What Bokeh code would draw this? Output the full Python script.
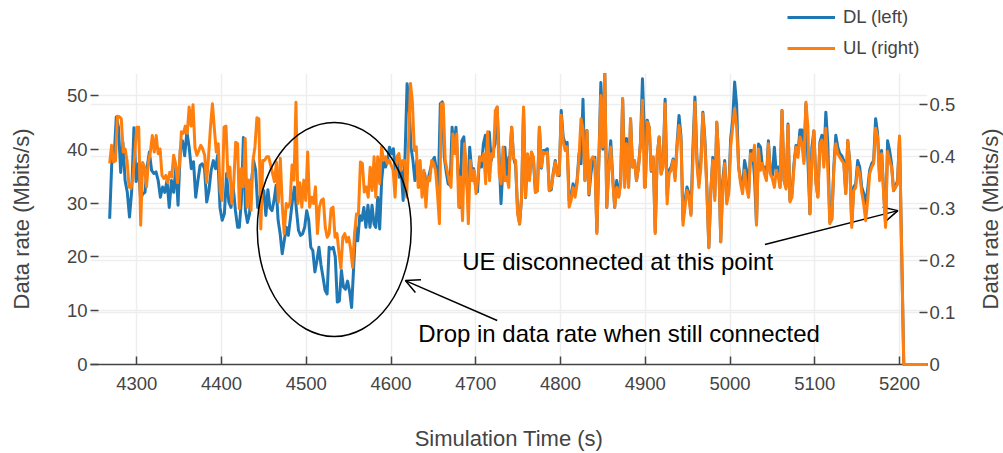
import math
import numpy as np
from bokeh.plotting import figure
from bokeh.layouts import column, row
from bokeh.models import (Range1d, LinearAxis, FixedTicker, Grid, Legend, LegendItem,
                          Label, Arrow, OpenHead, CustomJSTickFormatter)
from bokeh.embed import file_html
from bokeh.resources import INLINE

# ---------------- data ----------------
seg_start = [4268, 4421, 4582, 4740, 4900, 5059]
seg_end = [4419, 4580, 4739, 4899, 5057, 5200]
tail_t = [5205, 5233]
tail_dl = [0, 0]
tail_ul = [0, 0]

dl_a = [27.1, 37.9, 38.3, 46.0, 44.1, 35.7, 41.3, 34.2, 32.0, 27.4, 32.3, 44.0, 34.0, 37.3, 30.8,
        31.7, 32.0, 36.7, 39.5, 36.1, 35.5, 35.8, 34.2, 31.1, 33.0, 32.0, 34.2, 29.2, 34.2, 32.0,
        36.7, 29.6, 39.8, 41.6, 38.8, 43.2, 40.5, 36.4, 37.7, 31.1, 34.2, 37.0, 37.3, 36.4, 30.2,
        32.3, 36.1, 37.9, 36.4, 39.0, 29.2, 26.8, 28.0, 35.5, 30.2, 29.2, 33.0, 28.6, 25.5]
dl_b = [25.5, 30.5, 42.2, 28.6, 26.4, 28.0, 34.2, 37.9, 36.1, 29.2, 31.1, 31.7, 32.3, 27.7, 32.5,
        29.1, 28.6, 30.5, 33.3, 26.8, 24.3, 20.6, 23.0, 25.5, 24.0, 27.1, 30.5, 33.0, 28.6, 24.9,
        24.0, 24.3, 25.5, 28.6, 26.8, 21.8, 21.2, 17.2, 19.3, 21.8, 18.5, 16.2, 13.8, 13.1, 21.8,
        21.5, 21.8, 20.0, 11.6, 11.8, 17.5, 14.4, 14.0, 15.5, 13.6, 10.6, 18.1, 25.5, 23.0, 27.7,
        26.8, 29.2, 25.5, 29.6, 25.5, 29.6, 26.1]
dl_c = [25.5, 31.1, 25.2, 34.2, 37.9, 36.7, 37.9, 40.4, 39.2, 40.1, 36.1, 38.5, 34.8, 36.1, 30.5,
        39.2, 52.2, 48.5, 40.4, 37.9, 34.2, 37.9, 33.0, 36.1, 34.6, 35.5, 33.0, 34.8, 36.4, 37.9,
        38.5, 36.1, 33.3, 48.5, 48.8, 38.5, 35.8, 33.6, 33.3, 44.1, 39.8, 44.1, 36.1, 29.2, 41.6,
        42.3, 36.1, 31.8, 40.4, 36.1, 36.4, 33.0, 32.1, 38.5, 36.7, 41.0, 42.6, 37.9, 43.2, 37.9,
        39.8, 41.0, 47.8, 39.2, 29.9, 36.7, 40.4, 34.2, 38.5]
dl_d = [37.9, 44.1, 38.3, 37.0, 28.6, 26.1, 31.0, 47.5, 31.0, 39.0, 34.8, 39.4, 37.9, 32.0, 32.3,
        44.1, 36.5, 39.8, 39.8, 40.1, 32.3, 32.5, 35.7, 37.9, 35.5, 35.1, 47.2, 42.3, 41.0, 41.3,
        30.5, 31.2, 33.6, 31.8, 34.2, 39.2, 37.3, 49.3, 34.2, 43.5, 31.5, 35.5, 37.9, 38.5, 24.6,
        37.9, 52.4, 40.0, 54.3, 29.2, 36.7, 41.6, 34.8, 29.2, 34.2, 31.2, 34.2, 49.4, 36.1, 42.0,
        33.0, 45.7, 36.7, 37.9, 34.2, 36.7, 41.3, 53.1, 42.9]
dl_e = [33.0, 45.4, 44.0, 35.9, 38.5, 24.6, 38.8, 42.3, 35.4, 37.9, 49.3, 31.5, 36.1, 36.7, 38.2,
        34.8, 41.0, 46.3, 42.3, 26.8, 30.5, 33.0, 31.8, 28.0, 40.4, 49.7, 38.5, 33.6, 37.9, 46.9,
        42.0, 33.0, 21.7, 32.3, 38.5, 31.2, 45.0, 37.9, 22.8, 34.2, 37.9, 30.5, 32.3, 42.0, 45.4,
        52.5, 48.2, 36.7, 34.2, 33.0, 37.9, 36.1, 31.2, 39.8, 39.8, 34.8, 26.1, 41.0, 40.4, 36.7,
        36.7, 34.8, 41.6, 35.5, 35.1, 40.4, 35.5, 36.7]
dl_f = [33.0, 47.2, 34.2, 33.0, 44.7, 30.5, 31.8, 37.3, 40.7, 39.2, 43.6, 43.6, 37.9, 48.4, 37.9,
        28.0, 40.4, 43.4, 34.2, 31.2, 41.3, 42.6, 37.9, 46.9, 41.0, 26.5, 27.0, 36.7, 42.6, 40.4,
        39.2, 38.8, 37.9, 31.8, 41.6, 37.9, 26.1, 33.0, 33.6, 37.9, 36.7, 33.0, 31.8, 29.9, 32.6,
        36.1, 37.3, 37.9, 45.7, 42.9, 34.8, 39.8, 32.3, 26.1, 41.6, 39.8, 37.3, 32.3, 33.0, 34.2,
        42.3]

ul_a = [0.387, 0.422, 0.39, 0.392, 0.478, 0.477, 0.473, 0.409, 0.415, 0.392, 0.342, 0.339, 0.358,
        0.409, 0.457, 0.457, 0.268, 0.389, 0.38, 0.342, 0.39, 0.409, 0.441, 0.409, 0.441, 0.406,
        0.415, 0.364, 0.358, 0.364, 0.35, 0.37, 0.361, 0.403, 0.387, 0.35, 0.385, 0.448, 0.445,
        0.459, 0.445, 0.496, 0.459, 0.5, 0.418, 0.403, 0.412, 0.422, 0.415, 0.403, 0.35, 0.4,
        0.457, 0.502, 0.454, 0.409, 0.425, 0.335, 0.316, 0.457, 0.459, 0.361, 0.38, 0.31, 0.35,
        0.428, 0.425]
ul_b = [0.3, 0.377, 0.342, 0.435, 0.303, 0.355, 0.297, 0.393, 0.419, 0.475, 0.473, 0.261, 0.393,
        0.393, 0.4, 0.4, 0.384, 0.368, 0.352, 0.39, 0.313, 0.397, 0.306, 0.252, 0.31, 0.303, 0.313,
        0.384, 0.355, 0.505, 0.31, 0.35, 0.303, 0.355, 0.316, 0.409, 0.303, 0.322, 0.31, 0.342,
        0.252, 0.303, 0.316, 0.319, 0.265, 0.245, 0.252, 0.3, 0.303, 0.245, 0.252, 0.216, 0.185,
        0.245, 0.252, 0.236, 0.245, 0.223, 0.187, 0.252, 0.29, 0.29, 0.39, 0.387, 0.332, 0.342,
        0.322, 0.38, 0.335, 0.4]
ul_c = [0.322, 0.4, 0.348, 0.419, 0.393, 0.4, 0.387, 0.393, 0.384, 0.374, 0.322, 0.4, 0.406, 0.374,
        0.393, 0.393, 0.322, 0.425, 0.541, 0.505, 0.412, 0.419, 0.341, 0.393, 0.322, 0.374, 0.303,
        0.361, 0.354, 0.393, 0.387, 0.374, 0.329, 0.271, 0.502, 0.502, 0.393, 0.374, 0.354, 0.341,
        0.444, 0.406, 0.444, 0.303, 0.361, 0.277, 0.425, 0.374, 0.271, 0.393, 0.354, 0.374, 0.329,
        0.361, 0.4, 0.393, 0.406, 0.348, 0.448, 0.354, 0.406, 0.4, 0.489, 0.496, 0.367, 0.348,
        0.419, 0.354, 0.361, 0.341]
ul_d = [0.393, 0.457, 0.396, 0.393, 0.29, 0.271, 0.322, 0.496, 0.322, 0.406, 0.354, 0.409, 0.4,
        0.332, 0.335, 0.457, 0.38, 0.409, 0.406, 0.409, 0.335, 0.341, 0.367, 0.39, 0.364, 0.367,
        0.48, 0.428, 0.412, 0.419, 0.303, 0.316, 0.341, 0.322, 0.348, 0.4, 0.473, 0.454, 0.354,
        0.45, 0.329, 0.393, 0.4, 0.393, 0.252, 0.393, 0.518, 0.419, 0.563, 0.303, 0.374, 0.419,
        0.354, 0.303, 0.341, 0.322, 0.348, 0.512, 0.341, 0.425, 0.341, 0.473, 0.38, 0.393, 0.354,
        0.38, 0.425, 0.509, 0.341]
ul_e = [0.342, 0.467, 0.457, 0.374, 0.400, 0.252, 0.402, 0.438, 0.367, 0.380, 0.502, 0.309, 0.367,
        0.374, 0.393, 0.354, 0.419, 0.460, 0.432, 0.268, 0.303, 0.335, 0.322, 0.287, 0.393, 0.505,
        0.387, 0.341, 0.380, 0.483, 0.425, 0.335, 0.225, 0.335, 0.393, 0.316, 0.467, 0.393, 0.236,
        0.341, 0.387, 0.309, 0.329, 0.419, 0.457, 0.493, 0.457, 0.380, 0.348, 0.329, 0.374, 0.341,
        0.322, 0.406, 0.393, 0.422, 0.268, 0.415, 0.374, 0.387, 0.367, 0.354, 0.425, 0.367, 0.358,
        0.341, 0.374, 0.361]
ul_f = [0.341, 0.489, 0.354, 0.338, 0.46, 0.313, 0.322, 0.38, 0.419, 0.399, 0.438, 0.425, 0.387,
        0.505, 0.457, 0.29, 0.393, 0.45, 0.348, 0.322, 0.425, 0.432, 0.38, 0.455, 0.374, 0.271,
        0.28, 0.374, 0.425, 0.406, 0.399, 0.393, 0.387, 0.329, 0.432, 0.387, 0.264, 0.335, 0.341,
        0.38, 0.367, 0.332, 0.309, 0.277, 0.316, 0.367, 0.38, 0.387, 0.455, 0.438, 0.354, 0.406,
        0.329, 0.264, 0.41, 0.393, 0.38, 0.335, 0.341, 0.348, 0.44]

x_ticks = [4300, 4400, 4500, 4600, 4700, 4800, 4900, 5000, 5100, 5200]
left_ticks = [0, 10, 20, 30, 40, 50]
right_ticks = [0, 0.1, 0.2, 0.3, 0.4, 0.5]
series_names = ["DL (left)", "UL (right)"]
axis_title_x = "Simulation Time (s)"
axis_title_y = "Data rate (Mbits/s)"


def build(segments, tail):
    t, v = [], []
    for s, e, vals in zip(seg_start, seg_end, segments):
        t.extend(np.linspace(s, e, len(vals)).tolist())
        v.extend(vals)
    return t + tail_t, v + tail


t_dl, v_dl = build([dl_a, dl_b, dl_c, dl_d, dl_e, dl_f], tail_dl)
t_ul, v_ul = build([ul_a, ul_b, ul_c, ul_d, ul_e, ul_f], tail_ul)

FONT = "Liberation Sans"
GREY = "#444444"
BLUE = "#1f77b4"
ORANGE = "#ff7f0e"

TOP_H = 73          # legend strip height
MAIN_H = 453 - TOP_H
RT_W = 36           # strip holding the right-hand axis title
MAIN_W = 1003 - RT_W

# ---------------- legend strip ----------------
leg = figure(width=1003, height=TOP_H, output_backend="svg", toolbar_location=None,
             x_range=Range1d(0, 1003), y_range=Range1d(0, TOP_H),
             x_axis_type=None, y_axis_type=None,
             min_border_left=0, min_border_right=0, min_border_top=0, min_border_bottom=0)
leg.grid.visible = False
leg.outline_line_color = None
# keys only: these sit outside the visible range, the legend draws their samples
leg_dl = leg.line([-20, -10], [-20, -20], line_color=BLUE, line_width=3)
leg_ul = leg.line([-20, -10], [-20, -20], line_color=ORANGE, line_width=3)
legend = Legend(items=[LegendItem(label=series_names[0], renderers=[leg_dl]),
                       LegendItem(label=series_names[1], renderers=[leg_ul])],
                location=(787, 12), orientation="vertical",
                glyph_width=48, glyph_height=26, label_height=26, spacing=5,
                label_standoff=8, padding=0, margin=0,
                border_line_color=None, background_fill_alpha=0,
                label_text_font=FONT, label_text_font_size="18.5px",
                label_text_color=GREY)
leg.add_layout(legend)

# ---------------- main plot ----------------
p = figure(width=MAIN_W, height=MAIN_H, output_backend="svg", toolbar_location=None,
           x_range=Range1d(4245.4, 5233), y_range=Range1d(0, 54.09),
           min_border_left=90, min_border_right=MAIN_W - 927, min_border_top=0,
           min_border_bottom=89)
p.extra_y_ranges = {"ul": Range1d(0, 0.5603)}
p.outline_line_color = None

p.xaxis.ticker = FixedTicker(ticks=x_ticks)
p.yaxis.ticker = FixedTicker(ticks=left_ticks)
p.xgrid.ticker = FixedTicker(ticks=x_ticks)
p.ygrid.ticker = FixedTicker(ticks=left_ticks)
for g in (p.xgrid, p.ygrid):
    g.grid_line_color = "#eeeeee"
    g.grid_line_width = 1.5
p.add_layout(Grid(dimension=1, ticker=FixedTicker(ticks=right_ticks), y_range_name="ul",
                  grid_line_color="#eeeeee", grid_line_width=1.5))

p.xaxis.axis_label = axis_title_x
p.yaxis.axis_label = axis_title_y

raxis = LinearAxis(y_range_name="ul", ticker=FixedTicker(ticks=right_ticks),
                   formatter=CustomJSTickFormatter(code="return String(Math.round(tick*10)/10)"))
p.add_layout(raxis, "right")

for ax in [p.xaxis[0], p.yaxis[0], raxis]:
    ax.major_label_text_font = FONT
    ax.major_label_text_font_size = "18.5px"
    ax.major_label_text_color = GREY
    ax.axis_label_text_font = FONT
    ax.axis_label_text_font_size = "22px"
    ax.axis_label_text_font_style = "normal"
    ax.axis_label_text_color = GREY
    ax.major_tick_in = 8
    ax.major_tick_out = 0
    ax.major_tick_line_color = GREY
    ax.major_tick_line_width = 1.5
    ax.minor_tick_line_color = None

p.xaxis.axis_line_color = GREY
p.xaxis.axis_line_width = 1.5
p.xaxis.major_label_standoff = 12
p.xaxis.axis_label_standoff = 33
p.yaxis.axis_line_color = None
p.yaxis.major_label_standoff = 3
p.yaxis.axis_label_standoff = 30
raxis.axis_line_color = None
raxis.major_label_standoff = 2

r_dl = p.line(t_dl, v_dl, line_color=BLUE, line_width=3, line_join="round", level="overlay")
r_ul = p.line(t_ul, v_ul, line_color=ORANGE, line_width=3, line_join="round",
              y_range_name="ul", level="overlay")

p.ellipse(x=[4533], y=[25.1], width=181.6, height=39.8, fill_color=None,
          line_color="black", line_width=1.5, level="overlay")
p.add_layout(Arrow(end=OpenHead(size=14, line_width=1.5, line_color="black"),
                   x_start=4725.3, y_start=8.18, x_end=4616.9, y_end=15.6,
                   line_width=1.5, line_color="black"))
p.add_layout(Arrow(end=OpenHead(size=14, line_width=1.5, line_color="black"),
                   x_start=5041.2, y_start=22.3, x_end=5198.1, y_end=28.6,
                   line_width=1.5, line_color="black"))
p.add_layout(Label(x=4632.2, y=5.76, text="Drop in data rate when still connected",
                   text_font=FONT, text_font_size="24px", text_color="black",
                   text_baseline="middle", text_align="left"))
p.add_layout(Label(x=4684, y=19.1, text="UE disconnected at this point",
                   text_font=FONT, text_font_size="24px", text_color="black",
                   text_baseline="middle", text_align="left"))

# ---------------- right-hand axis title strip ----------------
# (its frame is aligned with the main plot's frame, so y=0.5 is the frame's middle)
rt = figure(width=RT_W, height=MAIN_H, output_backend="svg", toolbar_location=None,
            x_range=Range1d(0, RT_W), y_range=Range1d(0, 1),
            x_axis_type=None, y_axis_type=None,
            min_border_left=0, min_border_right=0, min_border_top=0, min_border_bottom=0)
rt.grid.visible = False
rt.outline_line_color = None
rt.add_layout(Label(x=990 - MAIN_W, y=0.5, text=axis_title_y,
                    angle=math.pi / 2, text_font=FONT, text_font_size="22px",
                    text_color=GREY, text_align="center", text_baseline="middle"))

layout = column(leg, row(p, rt, spacing=0), spacing=0)

open("out.html", "w").write(file_html(layout, INLINE))
